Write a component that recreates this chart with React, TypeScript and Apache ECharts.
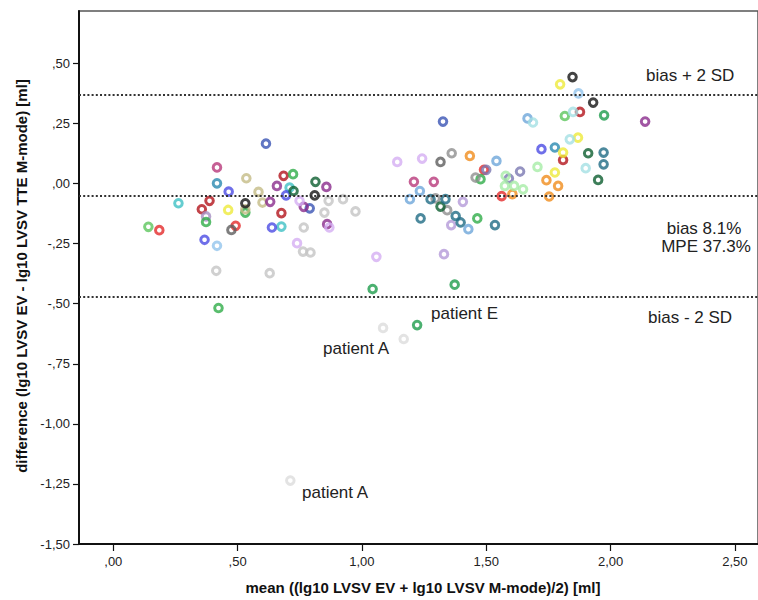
import React, { useEffect, useRef } from "react";
import * as echarts from "echarts";

// Axis ticks
const xTicks = [0, 0.5, 1.0, 1.5, 2.0, 2.5];
const yTicks = [-1.5, -1.25, -1.0, -0.75, -0.5, -0.25, 0, 0.25, 0.5];

// Bland-Altman reference lines
const bias = -0.0515;
const upperLoA = 0.371;
const lowerLoA = -0.474;

// Points grouped by patient colour: [mean, difference]
const lightGreen = [[0.141, -0.18], [1.816, 0.281]];
const red = [[0.185, -0.194], [0.492, -0.176], [1.491, 0.057], [1.562, -0.052]];
const cyan = [[0.262, -0.082], [0.709, -0.017], [0.676, -0.179]];
const magenta = [[0.417, 0.067], [1.209, 0.007], [1.289, 0.007]];
const teal = [[0.417, 0.001], [1.776, 0.15]];
const blue = [[0.464, -0.034], [0.367, -0.234], [0.695, -0.049], [0.638, -0.183], [1.722, 0.143]];
const royalBlue = [[0.614, 0.166], [1.326, 0.258], [0.79, -0.103]];
const darkRed = [[0.387, -0.072], [0.356, -0.107], [0.685, 0.032], [0.676, -0.123], [1.877, 0.298], [1.809, 0.098]];
const lavenderGrey = [[0.373, -0.137]];
const green = [[0.373, -0.16], [0.531, -0.121], [0.723, 0.039], [1.477, 0.018], [1.464, -0.145], [0.423, -0.518]];
const lightBlue = [[0.417, -0.259], [1.871, 0.375]];
const lightGrey = [[0.414, -0.363], [0.629, -0.373], [0.763, -0.283], [0.793, -0.287], [0.766, -0.183], [0.866, -0.072], [0.924, -0.065], [0.849, -0.121], [0.974, -0.116]];
const paleGrey = [[1.085, -0.601], [1.168, -0.647], [0.712, -1.236]];
const khaki = [[0.535, 0.022], [0.584, -0.035], [0.6, -0.079], [0.531, -0.107]];
const yellow = [[0.462, -0.11], [1.797, 0.413], [1.869, 0.191], [1.776, 0.046], [1.809, 0.129]];
const black = [[0.531, -0.082], [0.81, -0.049], [1.847, 0.443], [1.93, 0.337]];
const darkGrey = [[0.475, -0.193], [1.316, 0.09]];
const grey = [[1.361, 0.126], [1.457, 0.025], [1.296, -0.062], [1.343, -0.111]];
const purple = [[0.658, -0.01], [0.857, -0.014], [0.631, -0.076], [0.766, -0.097], [0.86, -0.169], [2.139, 0.258]];
const darkGreen = [[0.725, -0.031], [0.813, 0.007], [1.316, -0.096], [1.91, 0.126], [1.95, 0.015]];
const lightLavender = [[0.749, -0.072], [0.739, -0.248], [0.869, -0.183], [1.058, -0.305], [1.142, 0.09], [1.242, 0.104]];
const lavender = [[1.406, -0.076], [1.359, -0.173], [1.33, -0.294]];
const darkTeal = [[1.236, -0.145], [1.276, -0.065], [1.336, -0.065], [1.377, -0.135], [1.397, -0.162], [1.535, -0.173], [1.972, 0.129], [1.972, 0.08]];
const steelBlue = [[1.193, -0.065], [1.233, -0.031], [1.428, -0.19], [1.541, 0.094], [1.666, 0.271]];
const orange = [[1.434, 0.115], [1.605, -0.044], [1.742, 0.014], [1.789, -0.01], [1.753, -0.054]];
const slatePurple = [[1.5, 0.057], [1.591, 0.021], [1.636, 0.05]];
const paleGreen = [[1.706, 0.069], [1.578, 0.032], [1.575, -0.01], [1.612, -0.01], [1.648, -0.024]];
const paleCyan = [[1.688, 0.254], [1.836, 0.184], [1.849, 0.298], [1.9, 0.064]];
const midGreen = [[1.974, 0.284], [1.043, -0.439], [1.373, -0.421], [1.222, -0.589]];

const groups: [number[][], string][] = [
  [lightGrey, "#c4c4c4"],
  [paleGrey, "#dcdcdc"],
  [lightGreen, "#5cc65c"],
  [red, "#e42b2b"],
  [cyan, "#3ec0c4"],
  [magenta, "#b8387a"],
  [teal, "#2a8ab0"],
  [blue, "#4b4be3"],
  [royalBlue, "#3a54b4"],
  [darkRed, "#b3141c"],
  [lavenderGrey, "#a58fc2"],
  [green, "#30ad48"],
  [lightBlue, "#92c4ec"],
  [khaki, "#c4bc86"],
  [yellow, "#eeea3a"],
  [black, "#141414"],
  [darkGrey, "#5e5e5e"],
  [grey, "#8e8e8e"],
  [purple, "#8a2c8c"],
  [darkGreen, "#0c5e30"],
  [lightLavender, "#d4aef2"],
  [lavender, "#b49ad8"],
  [darkTeal, "#1f6b84"],
  [steelBlue, "#6ea6d9"],
  [orange, "#f08c1c"],
  [slatePurple, "#7a78b2"],
  [paleGreen, "#a6eca6"],
  [paleCyan, "#a4e0e4"],
  [midGreen, "#1e9c4c"],
];

const fmt = (v: number) => {
  let s = v.toFixed(2);
  s = s.replace(/^(-?)0\./, "$1.");
  return s.replace(".", ",");
};

const FONT = "'Liberation Sans', Arial, sans-serif";

export default function App() {
  const ref = useRef<HTMLDivElement>(null);
  useEffect(() => {
    document.body.style.margin = "0";
    if (!ref.current) return;
    const chart = echarts.init(ref.current, null, { renderer: "svg" });
    const series: any[] = groups.map(([data, color]) => ({
      type: "scatter",
      data,
      symbol: "circle",
      symbolSize: 7.6,
      itemStyle: { color: "rgba(0,0,0,0)", borderColor: color, borderWidth: 3 },
      silent: true,
    }));
    series.push({
      type: "scatter",
      data: [],
      markLine: {
        silent: true,
        symbol: ["none", "none"],
        label: { show: false },
        lineStyle: { color: "#333", width: 2, type: [2, 2.2] },
        data: [{ yAxis: upperLoA }, { yAxis: bias }, { yAxis: lowerLoA }],
      },
    });
    const textStyle = (extra: any) => ({
      fill: "#222",
      font: `17px ${FONT}`,
      textVerticalAlign: "middle",
      ...extra,
    });
    chart.setOption({
      animation: false,
      grid: {
        left: 79,
        top: 11,
        right: 0,
        bottom: 56,
        show: true,
        borderColor: "#555",
        borderWidth: 1.5,
        backgroundColor: "#fff",
      },
      xAxis: {
        type: "value",
        min: -0.138,
        max: 2.593,
        splitLine: { show: false },
        axisLine: { show: true, onZero: false, lineStyle: { color: "#111", width: 2 } },
        axisTick: { show: true, length: 7, customValues: xTicks, lineStyle: { color: "#111", width: 1.2 } },
        axisLabel: {
          customValues: xTicks,
          formatter: (v: number) => fmt(v),
          color: "#222",
          fontSize: 13,
          fontFamily: FONT,
          margin: 11,
        },
      },
      yAxis: {
        type: "value",
        min: -1.5,
        max: 0.718,
        splitLine: { show: false },
        axisLine: { show: true, onZero: false, lineStyle: { color: "#111", width: 2 } },
        axisTick: { show: true, length: 6, customValues: yTicks, lineStyle: { color: "#111", width: 1.2 } },
        axisLabel: {
          customValues: yTicks,
          formatter: (v: number) => fmt(v),
          color: "#222",
          fontSize: 13,
          fontFamily: FONT,
          margin: 9,
        },
      },
      graphic: [
        {
          type: "text",
          x: 21,
          y: 276,
          rotation: Math.PI / 2,
          style: {
            text: "difference (lg10 LVSV EV - lg10 LVSV TTE M-mode) [ml]",
            fill: "#111",
            font: `bold 15px ${FONT}`,
            textAlign: "center",
            textVerticalAlign: "middle",
          },
        },
        {
          type: "text",
          x: 423,
          y: 587,
          style: {
            text: "mean ((lg10 LVSV EV + lg10 LVSV M-mode)/2) [ml]",
            fill: "#111",
            font: `bold 15px ${FONT}`,
            textAlign: "center",
            textVerticalAlign: "middle",
          },
        },
        { type: "text", x: 646, y: 75, style: textStyle({ text: "bias + 2 SD", textAlign: "left" }) },
        { type: "text", x: 704, y: 228, style: textStyle({ text: "bias 8.1%", textAlign: "center" }) },
        { type: "text", x: 706, y: 246, style: textStyle({ text: "MPE 37.3%", textAlign: "center" }) },
        { type: "text", x: 648, y: 317, style: textStyle({ text: "bias - 2 SD", textAlign: "left" }) },
        { type: "text", x: 431, y: 313, style: textStyle({ text: "patient E", textAlign: "left" }) },
        { type: "text", x: 323, y: 348, style: textStyle({ text: "patient A", textAlign: "left" }) },
        { type: "text", x: 302, y: 492, style: textStyle({ text: "patient A", textAlign: "left" }) },
      ],
      series,
    });
    return () => chart.dispose();
  }, []);
  return <div ref={ref} style={{ width: 758, height: 600, background: "#fff" }} />;
}
